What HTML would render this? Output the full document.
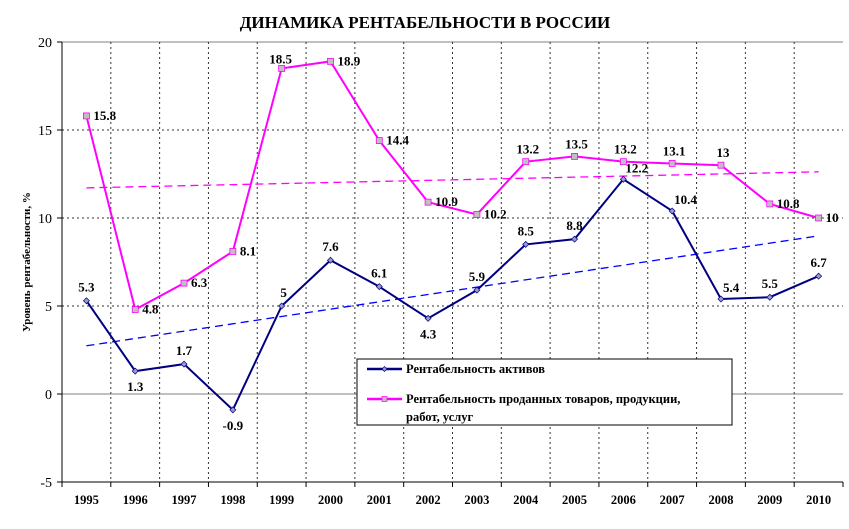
<!DOCTYPE html>
<html><head><meta charset="utf-8"><style>
body{margin:0;background:#fff}
svg{display:block;font-family:"Liberation Serif","DejaVu Serif",serif}
.lbl{font-size:13px;font-weight:bold;fill:#000}
</style></head><body>
<svg id="c" width="849" height="529">
<text x="425" y="28" text-anchor="middle" font-size="17" font-weight="bold">ДИНАМИКА РЕНТАБЕЛЬНОСТИ В РОССИИ</text>
<text transform="translate(30,262) rotate(-90)" text-anchor="middle" font-size="11" font-weight="bold">Уровень рентабельности, %</text>
<g id="grid"></g><g id="axes"></g><g id="trend"></g><g id="series"></g><g id="labels"></g>
<g>
<rect x="357" y="359" width="375" height="66" fill="#fff" stroke="#000" stroke-width="1"/>
<line x1="367" y1="369" x2="402" y2="369" stroke="#000080" stroke-width="2.5"/>
<path d="M384.5 366.5l2.5 2.5-2.5 2.5-2.5-2.5z" fill="#9999cc" stroke="#000080" stroke-width="0.7"/>
<text x="406" y="373" font-size="12.5" font-weight="bold">Рентабельность активов</text>
<line x1="367" y1="399" x2="402" y2="399" stroke="#ff00ff" stroke-width="2.5"/>
<rect x="382" y="396.5" width="5" height="5" fill="#c0c0c0" stroke="#ff00ff" stroke-width="0.7"/>
<text x="406" y="403" font-size="12.5" font-weight="bold">Рентабельность проданных товаров, продукции,</text>
<text x="406" y="421" font-size="12.5" font-weight="bold">работ, услуг</text>
</g>
</svg>
<script>
const years=["1995","1996","1997","1998","1999","2000","2001","2002","2003","2004","2005","2006","2007","2008","2009","2010"];
const assets=[5.3,1.3,1.7,-0.9,5,7.6,6.1,4.3,5.9,8.5,8.8,12.2,10.4,5.4,5.5,6.7];
const sales=[15.8,4.8,6.3,8.1,18.5,18.9,14.4,10.9,10.2,13.2,13.5,13.2,13.1,13,10.8,10];
const yTicks=[-5,0,5,10,15,20];
const NS="http://www.w3.org/2000/svg";
const L=62,R=843,T=42,B=482,ymin=-5,ymax=20;
const bw=(R-L)/years.length;
const X=i=>L+bw*(i+0.5);
const Y=v=>B-(v-ymin)/(ymax-ymin)*(B-T);
function mk(p,t,a){const e=document.createElementNS(NS,t);for(const k in a)e.setAttribute(k,a[k]);document.getElementById(p).appendChild(e);return e;}
yTicks.forEach(v=>{
 const y=Y(v);
 let ln;
 if(v===0||v===20) ln=mk('grid','line',{x1:L,x2:R,y1:y,y2:y,stroke:'#808080','stroke-width':1});
 else if(v!==-5) ln=mk('grid','line',{x1:L,x2:R,y1:y,y2:y,stroke:'#333','stroke-width':1,'stroke-dasharray':'2,3'});
 if(ln){}
 mk('axes','line',{x1:L-5,x2:L,y1:y,y2:y,stroke:'#000'});
 const t=mk('axes','text',{x:L-10,y:y+5,'text-anchor':'end','font-size':14});
 t.textContent=v;
 
 
});
years.forEach((yr,i)=>{
 if(i>0){const g=mk('grid','line',{x1:L+bw*i,x2:L+bw*i,y1:T,y2:B,stroke:'#333','stroke-dasharray':'2,3'});
 
 }
 mk('axes','line',{x1:L+bw*i,x2:L+bw*i,y1:B,y2:B+5,stroke:'#000'});
 const t=mk('axes','text',{x:X(i),y:B+22,'text-anchor':'middle','font-size':12.5,'font-weight':'bold'});
 t.textContent=yr;
 
 
});
mk('axes','line',{x1:R,x2:R,y1:B,y2:B+5,stroke:'#000'});
mk('axes','line',{x1:L,x2:L,y1:T,y2:B,stroke:'#000'});
mk('axes','line',{x1:L,x2:R,y1:B,y2:B,stroke:'#000'});
function trend(d,col,name){
 const n=d.length;let sx=0,sy=0,sxx=0,sxy=0;
 d.forEach((v,i)=>{sx+=i;sy+=v;sxx+=i*i;sxy+=i*v;});
 const b=(n*sxy-sx*sy)/(n*sxx-sx*sx),a=(sy-b*sx)/n;
 const l=mk('trend','line',{x1:X(0),y1:Y(a),x2:X(n-1),y2:Y(a+b*(n-1)),stroke:col,'stroke-width':1.3,'stroke-dasharray':'8,5'});
 
 
}
trend(assets,'#0000ff','assets-trendline');
trend(sales,'#ff00ff','sales-trendline');
function series(d,col,name,marker){
 const p=mk('series','polyline',{points:d.map((v,i)=>X(i)+','+Y(v)).join(' '),fill:'none',stroke:col,'stroke-width':2});
 
 
 d.forEach((v,i)=>{
  const x=X(i),y=Y(v);let m;
  if(marker==='d') m=mk('series','path',{d:`M${x} ${y-3}l3 3-3 3-3-3z`,fill:'#9999cc',stroke:col,'stroke-width':0.7});
  else m=mk('series','rect',{x:x-3,y:y-3,width:6,height:6,fill:'#c0c0c0',stroke:col,'stroke-width':0.8});
  
  
 });
}
series(assets,'#000080','assets','d');
series(sales,'#ff00ff','sales','s');
const below=[1,3,7];
const rightA=[11,12,13];
assets.forEach((v,i)=>{
 let x=X(i)+(i===4?2:0),y=Y(v)-9,anc='middle';
 if(below.includes(i)) y=Y(v)+20;
 if(rightA.includes(i)){x=X(i)+2;y=Y(v)-7;anc='start';}
 const t=mk('labels','text',{x:x,y:y,'text-anchor':anc,class:'lbl'});
 t.textContent=v;
 
 
});
sales.forEach((v,i)=>{
 let x=X(i)+7,y=Y(v)+4,anc='start';
 if(i>=9&&i<=13){x=X(i)+2;y=Y(v)-8;anc='middle';}
 if(i===4){x=X(i)-1;y=Y(v)-5;anc='middle';}
 const t=mk('labels','text',{x:x,y:y,'text-anchor':anc,class:'lbl'});
 t.textContent=v;
 
 
});
</script>
</body></html>
